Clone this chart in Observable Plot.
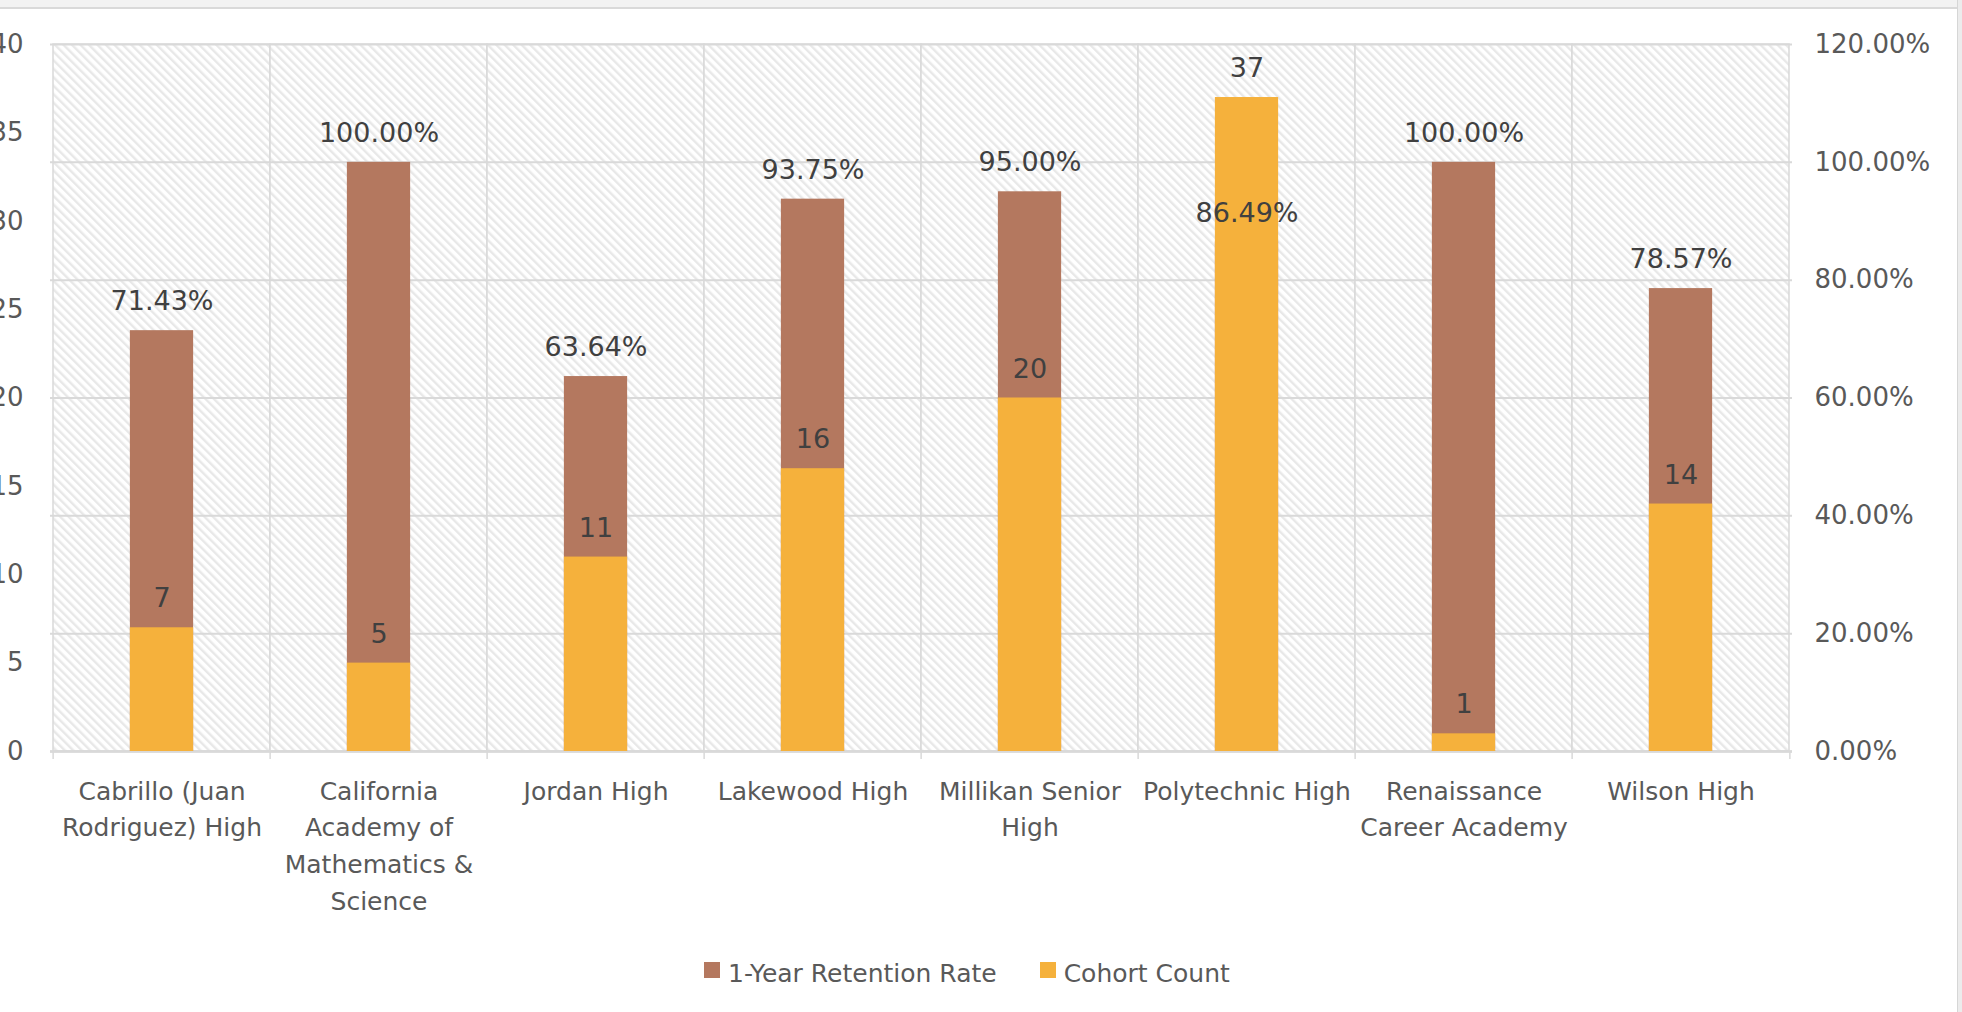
<!DOCTYPE html>
<html>
<head>
<meta charset="utf-8">
<script src="https://cdn.jsdelivr.net/npm/d3@7"></script>
<script src="https://cdn.jsdelivr.net/npm/@observablehq/plot@0.6"></script>
<style>
  body { margin: 0; background: #fff; width: 1962px; height: 1012px; overflow: hidden; position: relative; font-family: "DejaVu Sans", sans-serif; }
  #topstrip { position: absolute; left: 0; top: 0; width: 1962px; height: 7px; background: #f2f2f2; border-bottom: 2px solid #d9d9d9; z-index: 2; }
  #rightstrip { position: absolute; right: 0; top: 0; width: 4px; height: 1012px; background: #ececec; border-left: 1px solid #d6d6d6; z-index: 2; }
  #chart { position: absolute; left: 0; top: 0; }
  #legend { position: absolute; left: 704px; top: 959px; display: flex; align-items: center; font-size: 25px; color: #595959; white-space: nowrap; }
  .sw { width: 16px; height: 16px; margin-right: 8px; position: relative; top: -4px; }
  .item { display: flex; align-items: center; margin-right: 43px; }
</style>
</head>
<body>
<div id="topstrip"></div>
<div id="rightstrip"></div>
<div id="chart"></div>
<div id="legend"></div>
<script>
// ---- data ----
const schools = [
  "Cabrillo (Juan Rodriguez) High",
  "California Academy of Mathematics & Science",
  "Jordan High",
  "Lakewood High",
  "Millikan Senior High",
  "Polytechnic High",
  "Renaissance Career Academy",
  "Wilson High"
];
const xTickLabels = [
  "Cabrillo (Juan\nRodriguez) High",
  "California\nAcademy of\nMathematics &\nScience",
  "Jordan High",
  "Lakewood High",
  "Millikan Senior\nHigh",
  "Polytechnic High",
  "Renaissance\nCareer Academy",
  "Wilson High"
];
const retentionRate = [0.7143, 1.0, 0.6364, 0.9375, 0.95, 0.8649, 1.0, 0.7857];
const cohortCount = [7, 5, 11, 16, 20, 37, 1, 14];
const countTicks = [0, 5, 10, 15, 20, 25, 30, 35, 40];
const rateTicks = [0, 0.2, 0.4, 0.6, 0.8, 1.0, 1.2];
const seriesNames = ["1-Year Retention Rate", "Cohort Count"];
const seriesColors = ["#B4785F", "#F5B13C"];

const countMax = 40, rateMax = 1.2;
const toCount = r => r * countMax / rateMax;
const rows = schools.map((s, i) => ({school: s, rate: retentionRate[i], count: cohortCount[i]}));

const W = 1962, H = 940, mL = 50, mR = 170, mT = 44, mB = H - 751;
const bw = (W - mL - mR) / schools.length;
const barW = 64;
const inset = (bw - barW) / 2;
const grid = "#d9d9d9";
const axisColor = "#595959";
const labelColor = "#404040";

const chart = Plot.plot({
  width: W, height: H,
  marginLeft: mL, marginRight: mR, marginTop: mT, marginBottom: mB,
  style: {fontFamily: "DejaVu Sans, sans-serif", background: "transparent", overflow: "visible"},
  x: {domain: schools, padding: 0},
  y: {domain: [0, countMax]},
  marks: [
    // hatched plot cells with vertical grid borders
    Plot.barY(schools, {x: d => d, y1: 0, y2: countMax, fill: "url(#hatch)", stroke: grid, strokeWidth: 1.5}),
    // horizontal gridlines (secondary axis)
    Plot.ruleY(rateTicks, {y: toCount, stroke: grid, strokeWidth: 2}),
    // category separator ticks below axis
    Plot.ruleX(schools, {x: d => d, y1: 0, y2: -0.45, dx: -bw / 2, stroke: grid, strokeWidth: 1.5}),
    Plot.ruleX([schools[schools.length - 1]], {x: d => d, y1: 0, y2: -0.45, dx: bw / 2, stroke: grid, strokeWidth: 1.5}),
    Plot.ruleY([0], {stroke: grid, strokeWidth: 2.5}),
    // bars
    Plot.barY(rows, {x: "school", y: d => toCount(d.rate), fill: seriesColors[0], insetLeft: inset, insetRight: inset}),
    Plot.barY(rows, {x: "school", y: "count", fill: seriesColors[1], insetLeft: inset, insetRight: inset}),
    // labels
    Plot.text(rows, {x: "school", y: d => toCount(d.rate), text: d => (d.rate * 100).toFixed(2) + "%", dy: -29, fontSize: 27, fill: labelColor}),
    Plot.text(rows, {x: "school", y: "count", text: d => String(d.count), dy: -29, fontSize: 27, fill: labelColor}),
    // axes
    Plot.axisY(countTicks, {anchor: "left", tickSize: 0, tickPadding: 27, fontSize: 26, fill: axisColor, label: null}),
    Plot.axisY(rateTicks.map(toCount), {anchor: "right", tickSize: 0, tickPadding: 22, fontSize: 26, fill: axisColor, label: null,
      tickFormat: v => (v / countMax * rateMax * 100).toFixed(2) + "%"}),
    Plot.axisX({tickSize: 0, tickPadding: 22, fontSize: 25, lineHeight: 1.47, fill: axisColor, label: null,
      tickFormat: d => xTickLabels[schools.indexOf(d)]})
  ]
});

// hatch pattern
const svg = d3.select(chart);
const defs = svg.insert("defs", ":first-child");
const pat = defs.append("pattern").attr("id", "hatch").attr("patternUnits", "userSpaceOnUse")
  .attr("width", 6).attr("height", 6).attr("patternTransform", "rotate(-45)");
pat.append("rect").attr("width", 6).attr("height", 6).attr("fill", "#ffffff");
pat.append("rect").attr("width", 2.4).attr("height", 6).attr("fill", "#e8e8e8");

document.getElementById("chart").appendChild(chart);

// legend
const leg = d3.select("#legend");
seriesNames.forEach((n, i) => {
  const it = leg.append("div").attr("class", "item");
  it.append("div").attr("class", "sw").style("background", seriesColors[i]);
  it.append("span").text(n);
});
</script>
</body>
</html>
